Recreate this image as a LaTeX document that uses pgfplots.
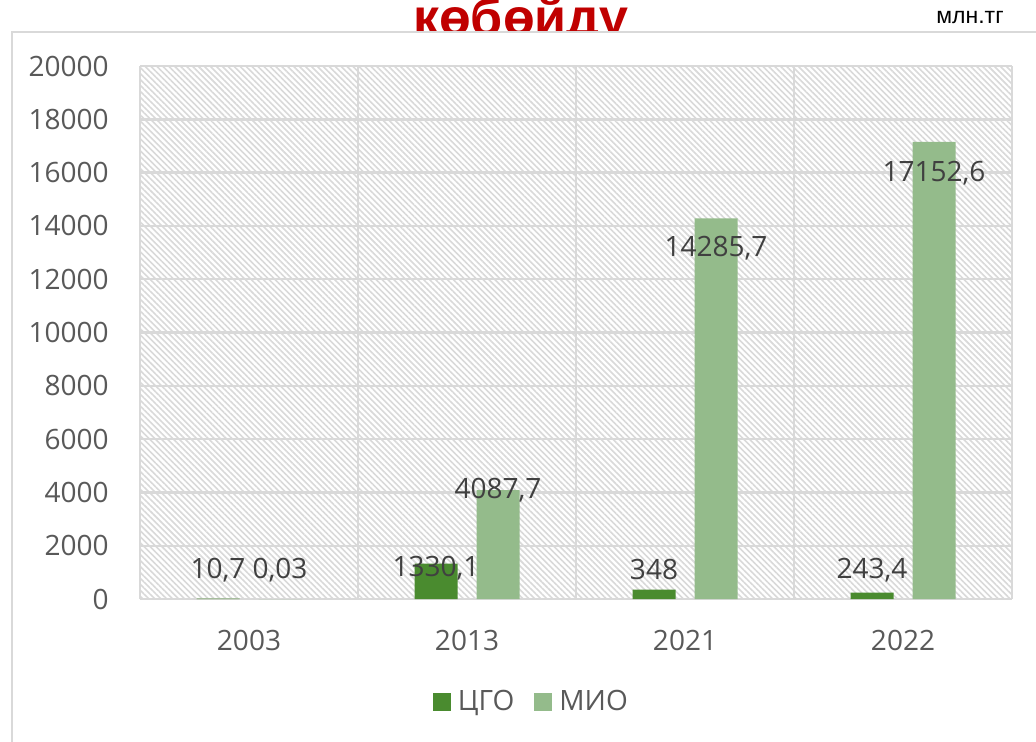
\documentclass[border=0pt]{standalone}
\usepackage{pgfplots}
\pgfplotsset{compat=1.18}
\usepackage{pgfplotstable}
\usetikzlibrary{patterns.meta}
\usepackage{fontspec}
\setmainfont{Open Sans}
\newfontfamily\arialfont{Liberation Sans}
\definecolor{cgo}{HTML}{4A8B2F}
\definecolor{mio}{HTML}{94BB8B}
\definecolor{ttl}{HTML}{C00000}
\definecolor{tick}{HTML}{595959}
\definecolor{lbl}{HTML}{404040}
\definecolor{grd}{HTML}{D9D9D9}
\pgfplotstableread{
x y dy label
0 10.7 14.5 10,7
1 1330.1 -2.5 1330,1
2 348 10 348
3 243.4 11 243,4
}\cgo
\pgfplotstableread{
x y dy label
0 0.03 14.5 0,03
1 4087.7 0 4087,7
2 14285.7 -15 14285,7
3 17152.6 -15.5 17152,6
}\mio
\begin{document}
\begin{tikzpicture}
\path[use as bounding box] (0,0) rectangle (518pt,370.5pt);
\node[anchor=base, text=ttl, font=\arialfont\bfseries\fontsize{26}{30}\selectfont, inner sep=0pt] at (260.5pt,352.5pt) {көбөйдү};
\node[anchor=center, font=\arialfont\fontsize{11.5}{13}\selectfont, inner sep=0pt] at (485pt,361.5pt) {млн.тг};
\draw[grd, line width=0.8pt, fill=white] (6pt,-10pt) rectangle (530pt,354.5pt);
\begin{axis}[
  at={(70pt,71pt)}, anchor=south west,
  scale only axis, width=436pt, height=266.5pt,
  xmin=-0.5, xmax=3.5, ymin=0, ymax=20000,
  xtick={0,1,2,3}, xticklabels={2003,2013,2021,2022},
  minor xtick={-0.5,0.5,1.5,2.5,3.5},
  ytick={0,2000,...,20000},
  scaled y ticks=false,
  major tick length=0pt, minor tick length=0pt,
  xminorgrids, ymajorgrids,
  grid style={grd, line width=1.2pt},
  minor grid style={grd, line width=1.2pt},
  axis line style={draw=none},
  axis background/.style={pattern={Lines[angle=-45,distance=2.1pt,line width=0.8pt]}, pattern color=grd},
  /pgf/number format/assume math mode=true,
  /pgf/number format/set thousands separator={},
  tick label style={font=\fontsize{14}{16}\selectfont, text=tick},
  yticklabel style={anchor=east, inner sep=0pt, xshift=-15.5pt},
  xticklabel style={anchor=center, inner sep=0pt, yshift=-20.5pt},
  ybar=9.5pt,
  bar width=21.5pt,
  legend style={at={(0.45,-0.193)}, anchor=center, draw=none, fill=none,
    legend columns=-1, font=\fontsize{14}{16}\selectfont, text=tick,
    /tikz/every odd column/.append style={column sep=1.5pt},
    /tikz/every even column/.append style={column sep=8pt}},
  legend image code/.code={\fill[#1] (0pt,-4.5pt) rectangle (9pt,4.5pt);},
  nodes near coords,
  point meta=explicit symbolic,
  visualization depends on={\thisrow{dy} \as \dy},
  every node near coord/.append style={anchor=center, yshift=\dy pt, font=\fontsize{14}{16}\selectfont, text=lbl, inner sep=0pt},
]
\addplot[fill=cgo, draw=none] table[x=x, y=y, meta=label] {\cgo};
\addlegendentry{ЦГО}
\addplot[fill=mio, draw=none] table[x=x, y=y, meta=label] {\mio};
\addlegendentry{МИО}
\end{axis}
\end{tikzpicture}
\end{document}
